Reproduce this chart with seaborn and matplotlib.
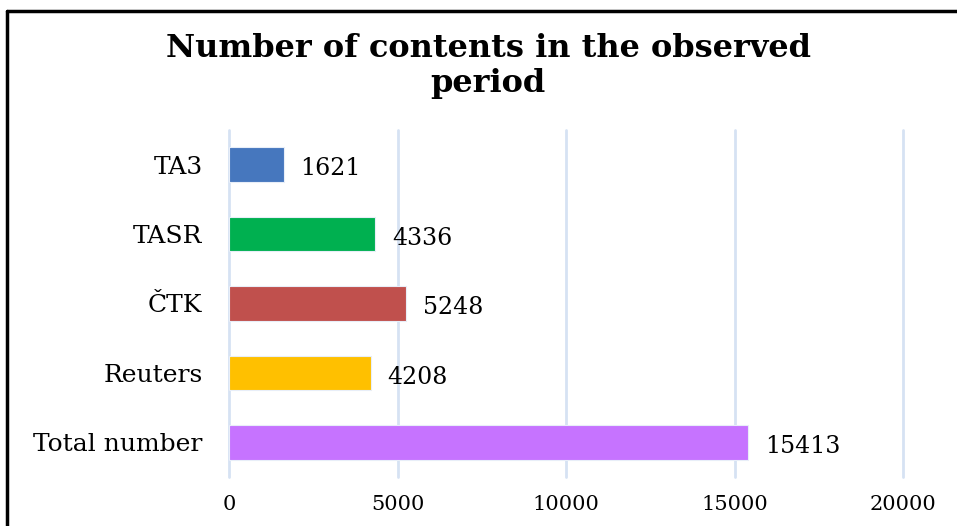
import matplotlib
matplotlib.use('Agg')
import matplotlib.pyplot as plt
from matplotlib.lines import Line2D
import seaborn as sns
import pandas as pd

# Data from the chart
categories = ['TA3', 'TASR', 'ČTK', 'Reuters', 'Total number']
values = [1621, 4336, 5248, 4208, 15413]
bar_colors = ['#4677BE', '#00B050', '#C0504D', '#FFC000', '#C673FF']
x_ticks = [0, 5000, 10000, 15000, 20000]

sns.set_style('white')
plt.rcParams['font.family'] = ['DejaVu Serif']
plt.rcParams['text.color'] = 'black'
plt.rcParams['xtick.color'] = 'black'
plt.rcParams['ytick.color'] = 'black'

df = pd.DataFrame({'source': categories, 'count': values})

fig = plt.figure(figsize=(9.57, 5.26), dpi=100)
ax = fig.add_axes([0.2393, 0.0932, 0.7043, 0.6597])

sns.barplot(data=df, x='count', y='source', hue='source', palette=bar_colors,
            order=categories, width=0.5, legend=False, ax=ax, saturation=1,
            edgecolor='#E8EEF8', linewidth=0.8, zorder=3)

ax.set_xlim(0, 20000)
ax.set_ylim(4.5, -0.5)
ax.set_xticks(x_ticks)
ax.set_xticklabels([str(t) for t in x_ticks], fontsize=15)
ax.tick_params(axis='x', length=0, pad=13)
ax.tick_params(axis='y', length=0, pad=19, labelsize=18)
ax.set_xlabel('')
ax.set_ylabel('')
ax.grid(axis='x', color='#D6E2F3', linewidth=2, zorder=0)
for gl in ax.get_xgridlines():
    gl.set_clip_on(False)
for s in ax.spines.values():
    s.set_visible(False)

# labels sit a little below the bar centre, like the original
for cont in ax.containers:
    labels = ax.bar_label(cont, padding=12, fontsize=17)
    for t in labels:
        t.xyann = (t.xyann[0], -3)

fig.text(0.51, 0.874, 'Number of contents in the observed\nperiod', ha='center', va='center',
         fontsize=23, fontweight='bold', linespacing=1.15)

# frame around the figure (left and top only visible)
fig.add_artist(Line2D([0.0075, 0.0075], [0.0, 0.979], color='black', linewidth=2.5,
                      transform=fig.transFigure))
fig.add_artist(Line2D([0.0075, 1.0], [0.979, 0.979], color='black', linewidth=2.5,
                      transform=fig.transFigure))

fig.savefig('out.png', dpi=100)
